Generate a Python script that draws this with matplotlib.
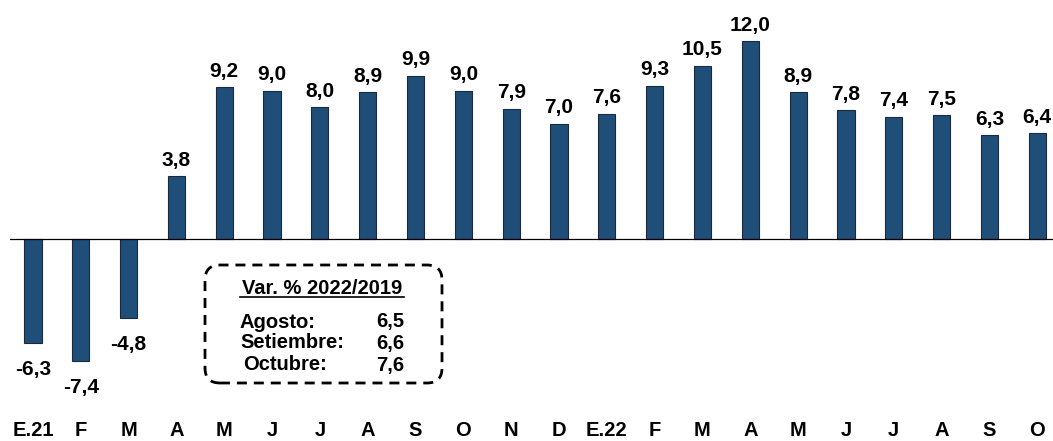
import matplotlib.pyplot as plt
from matplotlib.patches import FancyBboxPatch
from matplotlib.lines import Line2D

plt.rcParams['font.family'] = ['Liberation Sans', 'DejaVu Sans']

# datos / data
meses = ['E.21', 'F', 'M', 'A', 'M', 'J', 'J', 'A', 'S', 'O', 'N', 'D',
         'E.22', 'F', 'M', 'A', 'M', 'J', 'J', 'A', 'S', 'O']
valores = [-6.3, -7.4, -4.8, 3.8, 9.2, 9.0, 8.0, 8.9, 9.9, 9.0, 7.9, 7.0,
           7.6, 9.3, 10.5, 12.0, 8.9, 7.8, 7.4, 7.5, 6.3, 6.4]

recuadro_titulo = 'Var. % 2022/2019'
recuadro_meses = ['Agosto:', 'Setiembre:', 'Octubre:']
recuadro_valores = [6.5, 6.6, 7.6]

color_barra = '#1F4E79'
W, H = 1053, 441

fig = plt.figure(figsize=(W / 100, H / 100), dpi=100)
ax = fig.add_axes([10 / W, (H - 400) / H, 1 - 10 / W, 400 / H])

x = range(len(valores))
ax.bar(x, valores, width=0.36, color=color_barra, edgecolor='#1a2a3a', linewidth=0.8, zorder=2)
ax.axhline(0, color='black', linewidth=0.9, zorder=3)

for i, v in enumerate(valores):
    txt = f'{v:.1f}'.replace('.', ',')
    if v >= 0:
        ax.annotate(txt, (i, v), xytext=(0, 7.5), textcoords='offset points',
                    ha='center', va='baseline', fontsize=15, fontweight='bold')
    else:
        ax.annotate(txt, (i, v), xytext=(0, -12), textcoords='offset points',
                    ha='center', va='top', fontsize=15, fontweight='bold')

ax.set_xlim(-0.48, len(valores) - 1 + 0.33)
ax.set_ylim(-(400 - 239) / 16.5, 239 / 16.5)
ax.set_xticks(list(x))
ax.set_xticklabels(meses, fontsize=14.5, fontweight='bold')
ax.tick_params(axis='x', length=0, pad=15)
ax.set_yticks([])
for s in ax.spines.values():
    s.set_visible(False)

# recuadro / inset box
bx0, bx1, by0, by1 = 205, 442, 265, 383
caja = FancyBboxPatch((bx0 / W, (H - by1) / H), (bx1 - bx0) / W, (by1 - by0) / H,
                      boxstyle='round,pad=0,rounding_size=0.0142', mutation_aspect=W / H,
                      transform=fig.transFigure, facecolor='white', edgecolor='black',
                      linewidth=2, linestyle=(0, (3.6, 2.5)), zorder=5)
fig.patches.append(caja)

fig.text(322 / W, (H - 288) / H, recuadro_titulo, ha='center', va='center',
         fontsize=14.5, fontweight='bold', zorder=6)
fig.add_artist(Line2D([240 / W, 404 / W], [(H - 297) / H] * 2, color='black',
                      linewidth=1.2, zorder=6))

filas_y = [322, 343, 365]
izq = [240, 240, 243]
for nom, val, yy, xx in zip(recuadro_meses, recuadro_valores, filas_y, izq):
    fig.text(xx / W, (H - yy) / H, nom, ha='left', va='center', fontsize=14.5,
             fontweight='bold', zorder=6)
    fig.text(404 / W, (H - yy) / H, f'{val:.1f}'.replace('.', ','), ha='right', va='center',
             fontsize=14.5, fontweight='bold', zorder=6)

fig.savefig('out.png', dpi=100)
